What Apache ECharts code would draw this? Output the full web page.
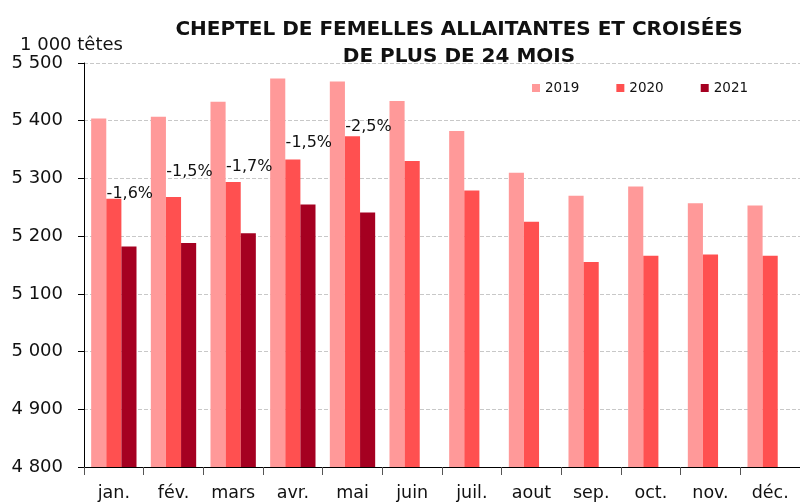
<!DOCTYPE html>
<html>
<head>
<meta charset="utf-8">
<script src="https://cdn.jsdelivr.net/npm/echarts@6/dist/echarts.min.js"></script>
<style>html,body{margin:0;padding:0;background:#fff}#c{width:800px;height:504px}</style>
</head>
<body>
<div id="c"></div>
<script>
const months = ['jan.','fév.','mars','avr.','mai','juin','juil.','aout','sep.','oct.','nov.','déc.'];
const s2019 = [5404,5407,5433,5473,5468,5434,5382,5310,5270,5286,5257,5253];
const s2020 = [5265,5268,5294,5333,5373,5330,5279,5225,5155,5166,5168,5166];
const s2021 = [5182,5188,5205,5255,5241,null,null,null,null,null,null,null];
const varLabels = ['-1,6%','-1,5%','-1,7%','-1,5%','-2,5%'];
const yTicks = [4800,4900,5000,5100,5200,5300,5400,5500];

const labelDy = [8,-12,-2,-4,4];
const font = 'DejaVu Sans';
const fmt = v => { const s = String(v); return s.length > 3 ? s.slice(0, s.length-3) + ' ' + s.slice(-3) : s; };

const chart = echarts.init(document.getElementById('c'));
chart.setOption({
  animation: false,
  textStyle: {fontFamily: font},
  title: {
    text: 'CHEPTEL DE FEMELLES ALLAITANTES ET CROISÉES\nDE PLUS DE 24 MOIS',
    left: 454, top: 11, textAlign: 'center',
    textStyle: {fontFamily: font, fontWeight: 'bold', fontSize: 20, lineHeight: 27, color: '#111'}
  },
  legend: {
    left: 527, top: 76, itemWidth: 8, itemHeight: 8, itemGap: 37,
    icon: 'rect',
    textStyle: {fontFamily: font, fontSize: 13.5, color: '#111'},
    data: ['2019','2020','2021']
  },
  grid: {left: 84, top: 63, width: 720, height: 404},
  xAxis: {
    type: 'category', data: months,
    axisLine: {lineStyle: {color: '#000'}},
    axisTick: {show: true, length: 8, lineStyle: {color: '#555'}},
    axisLabel: {fontSize: 17.5, color: '#111', margin: 17}
  },
  yAxis: {
    type: 'value', min: yTicks[0], max: yTicks[yTicks.length-1], interval: 100,
    name: '1 000 têtes', nameLocation: 'end', nameGap: 7,
    nameTextStyle: {fontSize: 18, color: '#111', align: 'left', padding: [0,0,0,-64]},
    axisLine: {show: true, lineStyle: {color: '#000'}},
    axisTick: {show: true, length: 6, lineStyle: {color: '#000'}},
    axisLabel: {fontSize: 18, color: '#111', margin: 21, formatter: fmt},
    splitLine: {lineStyle: {color: '#c8c8c8', type: 'dashed'}}
  },
  series: [
    {name: '2019', type: 'bar', data: s2019, barGap: '0%', barCategoryGap: '24%',
     itemStyle: {color: '#ff9999'}},
    {name: '2020', type: 'bar', data: s2020.map((v, i) => i < varLabels.length ? {
        value: v,
        label: {show: true, position: 'top', formatter: varLabels[i], offset: [16, labelDy[i]],
                fontSize: 16, color: '#111', fontFamily: font}
      } : v),
     itemStyle: {color: '#ff5050'}},
    {name: '2021', type: 'bar', data: s2021, itemStyle: {color: '#a50021'}}
  ]
});
</script>
</body>
</html>
